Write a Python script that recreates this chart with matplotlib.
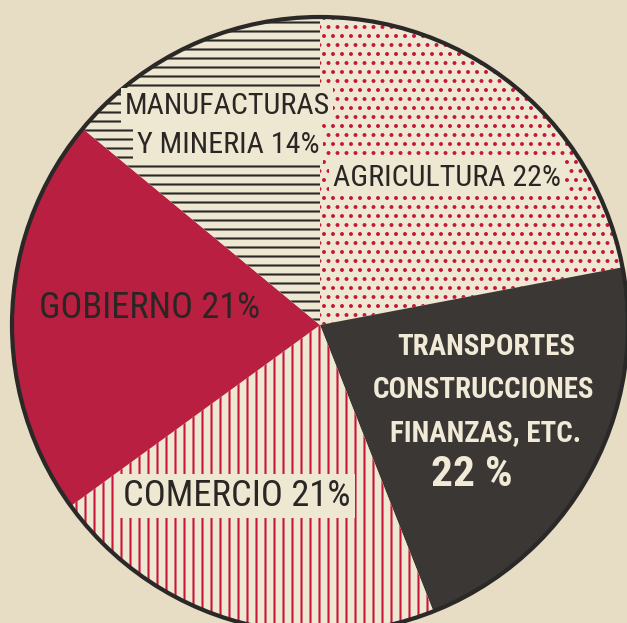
import matplotlib
matplotlib.use("Agg")
import matplotlib.pyplot as plt
from matplotlib.patches import Circle

# sector shares, clockwise from the top
sectors = ["AGRICULTURA", "TRANSPORTES", "COMERCIO", "GOBIERNO", "MANUFACTURAS"]
shares = [22, 22, 21, 21, 14]
transport_lines = ["TRANSPORTES", "CONSTRUCCIONES", "FINANZAS, ETC.", "22 %"]

PAPER = "#e6ddc4"
CREAM = "#eee7d2"
RED = "#b91f40"
DARK = "#3a3735"
INK = "#2a2624"
LIGHT = "#f1ead6"

# fill, hatch, hatch colour per sector
styles = {
    "AGRICULTURA": (CREAM, "..", "#c8163a"),
    "TRANSPORTES": (DARK, None, None),
    "COMERCIO": (CREAM, "||", "#c8163a"),
    "GOBIERNO": (RED, None, None),
    "MANUFACTURAS": (CREAM, "--", "#2b2927"),
}

plt.rcParams["hatch.linewidth"] = 1.4
FONT = ["Roboto Condensed", "Liberation Sans Narrow", "DejaVu Sans"]

W, H, DPI = 627, 623, 108
fig = plt.figure(figsize=(W / DPI, H / DPI), dpi=DPI, facecolor=PAPER)
ax = fig.add_axes([0, 0, 1, 1])
ax.set_facecolor(PAPER)

cx, cy, r = 320, H - 325, 308
wedges, _ = ax.pie(shares, startangle=90, counterclock=False,
                   center=(cx, cy), radius=r, frame=True,
                   colors=[styles[s][0] for s in sectors],
                   wedgeprops=dict(linewidth=0))
for w, s in zip(wedges, sectors):
    fill, hatch, hcol = styles[s]
    if hatch:
        w.set_hatch(hatch)
        w.set_edgecolor(hcol)
        w.set_linewidth(0)

ax.add_patch(Circle((cx, cy), r, fill=False, edgecolor="#2b2927", linewidth=2.8))

box = dict(boxstyle="square,pad=0.12", facecolor=CREAM, edgecolor="none")


def label(s, x, y, col=INK, wt="normal", clear=False):
    return ax.text(x, H - y, s, ha="center", va="center", fontsize=20,
                   family=FONT, color=col, fontweight=wt,
                   bbox=box if clear else None)


manu = [label("MANUFACTURAS", 227, 106, clear=True),
        label("Y MINERIA 14%", 228, 145, clear=True)]
agri = label("AGRICULTURA 22%", 447, 178, clear=True)
gob = label("GOBIERNO 21%", 150, 308)
trans = [label(transport_lines[0], 486, 347, LIGHT, "bold"),
         label(transport_lines[1], 484, 390, LIGHT, "bold"),
         label(transport_lines[2], 486, 433, LIGHT, "bold")]
pct = label(transport_lines[3], 472, 474, LIGHT, "bold")
com = label("COMERCIO 21%", 237, 496, clear=True)

ax.set_xlim(0, W)
ax.set_ylim(0, H)
ax.axis("off")

# size each label group to the width it takes in the original
renderer = fig.canvas.get_renderer()


def fit(group, ref, width):
    size = ref.get_fontsize() * width / ref.get_window_extent(renderer).width
    for t in group:
        t.set_fontsize(size)


fit(manu, manu[0], 205)
fit([agri], agri, 228)
fit([gob], gob, 222)
fit(trans, trans[1], 222)
fit([pct], pct, 82)
fit([com], com, 228)

fig.savefig("out.png", dpi=DPI, facecolor=PAPER)
